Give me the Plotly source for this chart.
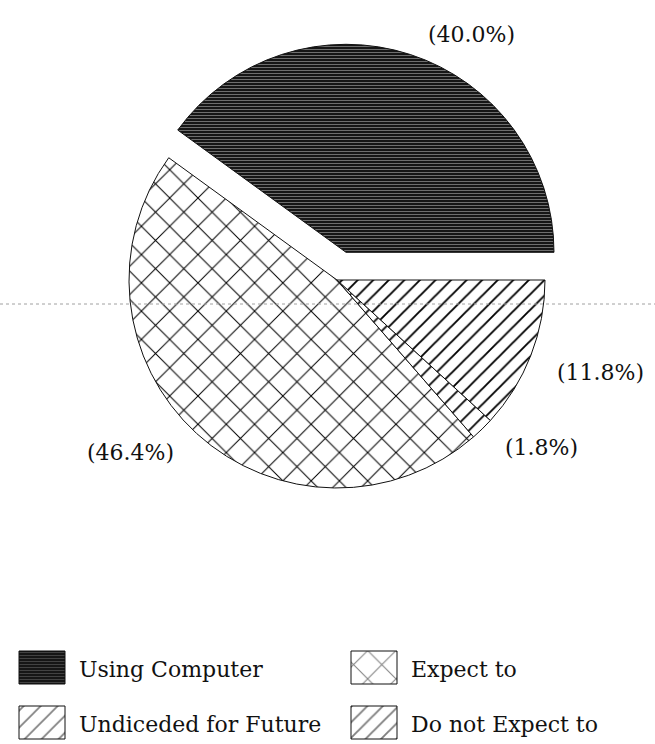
import math
import plotly.graph_objects as go

# Survey shares of computer use
categories = ["Using Computer", "Expect to", "Undiceded for Future", "Do not Expect to"]
shares = [40.0, 46.4, 1.8, 11.8]
pulls = [0.14, 0, 0, 0]

# Legend layout: two columns, read row by row
legend_rows = [["Using Computer", "Expect to"], ["Undiceded for Future", "Do not Expect to"]]

W, H = 655, 744
FONT = "DejaVu Serif"

# Pie geometry in pixels (y grows downward)
cx, cy, r = 337, 280, 208
start_deg = 0  # first slice begins at 3 o'clock and runs counterclockwise

patterns = {
    "Using Computer": dict(shape="-", fgcolor="#787878", bgcolor="#161616", size=3, solidity=0.3),
    "Expect to": dict(shape="x", fgcolor="#000000", bgcolor="white", size=20, solidity=0.1),
    "Undiceded for Future": dict(shape="/", fgcolor="#000000", bgcolor="white", size=12, solidity=0.14),
    "Do not Expect to": dict(shape="/", fgcolor="#000000", bgcolor="white", size=11, solidity=0.17),
}

total = sum(shares)
R = r * (1 + max(pulls))
first_deg = shares[0] / total * 360

fig = go.Figure()

fig.add_trace(go.Pie(
    labels=categories,
    values=shares,
    sort=False,
    direction="counterclockwise",
    rotation=90 - (start_deg + first_deg),
    pull=pulls,
    marker=dict(
        colors=[patterns[c]["bgcolor"] for c in categories],
        line=dict(color="#111111", width=1),
        pattern=dict(
            shape=[patterns[c]["shape"] for c in categories],
            fgcolor=[patterns[c]["fgcolor"] for c in categories],
            bgcolor=[patterns[c]["bgcolor"] for c in categories],
            size=[patterns[c]["size"] for c in categories],
            solidity=[patterns[c]["solidity"] for c in categories],
        ),
    ),
    textinfo="none",
    showlegend=False,
    hoverinfo="label+percent",
    domain=dict(x=[(cx - R) / W, (cx + R) / W], y=[1 - (cy + R) / H, 1 - (cy - R) / H]),
))

# Percentage labels just outside each slice's mid-angle
annotations = []
cum = 0.0
for name, v, p in zip(categories, shares, pulls):
    mid = math.radians(start_deg + (cum + v / 2) / total * 360)
    cum += v
    ux, uy = math.cos(mid), -math.sin(mid)
    ox, oy = cx + p * r * ux, cy + p * r * uy
    annotations.append(dict(
        x=ox + 1.06 * r * ux, y=oy + 1.03 * r * uy, xref="x", yref="y",
        text=f"({v / total * 100:.1f}%)", showarrow=False,
        xanchor="left" if ux >= 0 else "right",
        yanchor="bottom" if uy < 0 else "top",
        xshift=12 if ux >= 0 else -12,
        font=dict(family=FONT, size=22, color="#111111"),
    ))

# Hand-built legend with large patterned keys
key_x0, col_step = 19, 332
row_y0, row_step = 651, 55
key_w, key_h = 46, 33
text_gap = 12
for rr, row in enumerate(legend_rows):
    for c, name in enumerate(row):
        x0 = key_x0 + c * col_step
        y0 = row_y0 + rr * row_step
        p = patterns[name]
        fig.add_trace(go.Scatter(
            x=[x0, x0 + key_w, x0 + key_w, x0, x0],
            y=[y0, y0, y0 + key_h, y0 + key_h, y0],
            mode="lines",
            fill="toself",
            fillcolor=p["bgcolor"],
            fillpattern=dict(shape=p["shape"], fgcolor=p["fgcolor"], bgcolor=p["bgcolor"],
                             size=p["size"], solidity=p["solidity"]),
            line=dict(color="#111111", width=1),
            showlegend=False,
            hoverinfo="skip",
        ))
        annotations.append(dict(
            x=x0 + key_w + text_gap, y=y0 + key_h / 2 + 2, xref="x", yref="y",
            text=name, showarrow=False, xanchor="left", yanchor="middle",
            font=dict(family=FONT, size=22, color="#111111"),
        ))

fig.update_layout(
    width=W, height=H,
    margin=dict(l=0, r=0, t=0, b=0),
    paper_bgcolor="white",
    plot_bgcolor="rgba(0,0,0,0)",
    xaxis=dict(range=[0, W], domain=[0, 1], visible=False, fixedrange=True),
    yaxis=dict(range=[H, 0], domain=[0, 1], visible=False, fixedrange=True),
    annotations=annotations,
    shapes=[dict(type="line", xref="paper", yref="y", x0=0, x1=1, y0=304, y1=304,
                 line=dict(color="#a0a0a0", width=1, dash="dot"), layer="above")],
)

fig.write_html("out.html")
